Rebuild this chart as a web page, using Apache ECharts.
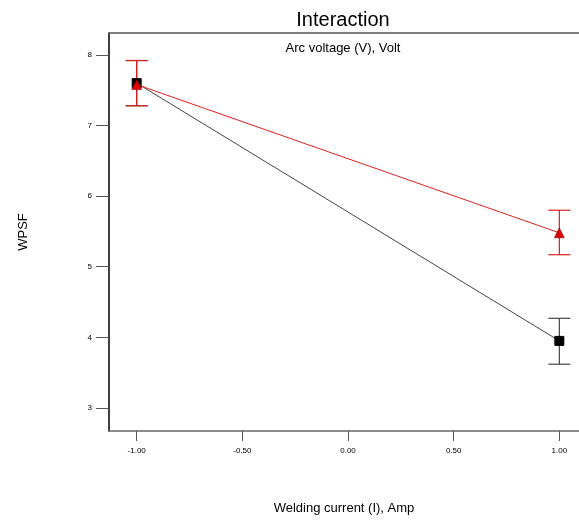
<!DOCTYPE html>
<html><head><meta charset="utf-8">
<script src="https://cdn.jsdelivr.net/npm/echarts@6/dist/echarts.min.js"></script>
<style>html,body{margin:0;padding:0;background:#fff}#c{width:579px;height:521px}</style>
</head><body><div id="c"></div>
<script>
const xLevels = [-1, 1];
const blackMean = [7.60, 3.95];
const blackLow = [7.28, 3.62];
const blackHigh = [7.92, 4.27];
const redMean = [7.58, 5.48];
const redLow = [7.28, 5.17];
const redHigh = [7.92, 5.80];
const xTicks = [-1, -0.5, 0, 0.5, 1];
const yTicks = [3, 4, 5, 6, 7, 8];

const font = 'Liberation Sans, Arial, sans-serif';
function errSeries(low, high, color) {
  return {
    type: 'custom', z: 3,
    data: xLevels.map((x, i) => [x, low[i], high[i]]),
    renderItem: function (params, api) {
      const p1 = api.coord([api.value(0), api.value(1)]);
      const p2 = api.coord([api.value(0), api.value(2)]);
      const w = 11;
      const st = { stroke: color, lineWidth: 1.2 };
      return { type: 'group', children: [
        { type: 'line', shape: { x1: p1[0], y1: p1[1], x2: p2[0], y2: p2[1] }, style: st },
        { type: 'line', shape: { x1: p1[0] - w, y1: p1[1], x2: p1[0] + w, y2: p1[1] }, style: st },
        { type: 'line', shape: { x1: p2[0] - w, y1: p2[1], x2: p2[0] + w, y2: p2[1] }, style: st }
      ]};
    }
  };
}
const chart = echarts.init(document.getElementById('c'));
chart.setOption({
  animation: false,
  title: [
    { text: 'Interaction', left: 338, top: 5, textAlign: 'center',
      textStyle: { fontFamily: font, fontSize: 20, fontWeight: 'normal', color: '#000' } },
    { text: 'Arc voltage (V), Volt', left: 338, top: 37, textAlign: 'center',
      textStyle: { fontFamily: font, fontSize: 13, fontWeight: 'normal', color: '#000' } }
  ],
  grid: { left: 109, right: 0, top: 33, bottom: 90, containLabel: false },
  xAxis: [{
    type: 'value', min: -1.131, max: 1.093,
    name: 'Welding current (I), Amp', nameLocation: 'middle', nameGap: 71,
    nameTextStyle: { fontFamily: font, fontSize: 13, color: '#000' },
    axisLine: { show: true, onZero: false, lineStyle: { color: '#666', width: 1.5 } },
    axisTick: { show: true, length: 10, customValues: xTicks, lineStyle: { color: '#555', width: 1 } },
    axisLabel: { customValues: xTicks, margin: 16, fontFamily: font, fontSize: 8, color: '#000',
      formatter: v => v.toFixed(2) },
    splitLine: { show: false }
  }, {
    type: 'value', position: 'top', min: -1.131, max: 1.093,
    axisLine: { show: true, lineStyle: { color: '#555', width: 1.5 } },
    axisTick: { show: false }, axisLabel: { show: false }, splitLine: { show: false }
  }],
  yAxis: {
    type: 'value', min: 2.674, max: 8.31,
    name: 'WPSF', nameLocation: 'middle', nameGap: 79,
    nameTextStyle: { fontFamily: font, fontSize: 13, color: '#000' },
    axisLine: { show: true, onZero: false, lineStyle: { color: '#000', width: 1.5 } },
    axisTick: { show: true, length: 13, customValues: yTicks, lineStyle: { color: '#555', width: 1 } },
    axisLabel: { customValues: yTicks, margin: 17, fontFamily: font, fontSize: 8, color: '#000' },
    splitLine: { show: false }
  },
  series: [
    errSeries(blackLow, blackHigh, '#444'),
    errSeries(redLow, redHigh, '#d62020'),
    { type: 'line', z: 4, data: xLevels.map((x, i) => [x, blackMean[i]]),
      symbol: 'rect', symbolSize: 9, lineStyle: { color: '#444', width: 1 },
      itemStyle: { color: '#000', borderColor: '#000' } },
    { type: 'line', z: 5, data: xLevels.map((x, i) => [x, redMean[i]]),
      symbol: 'triangle', symbolSize: 10, lineStyle: { color: '#e02020', width: 1 },
      itemStyle: { color: '#e00000', borderColor: '#600', borderWidth: 0.5 } }
  ]
});
</script></body></html>
